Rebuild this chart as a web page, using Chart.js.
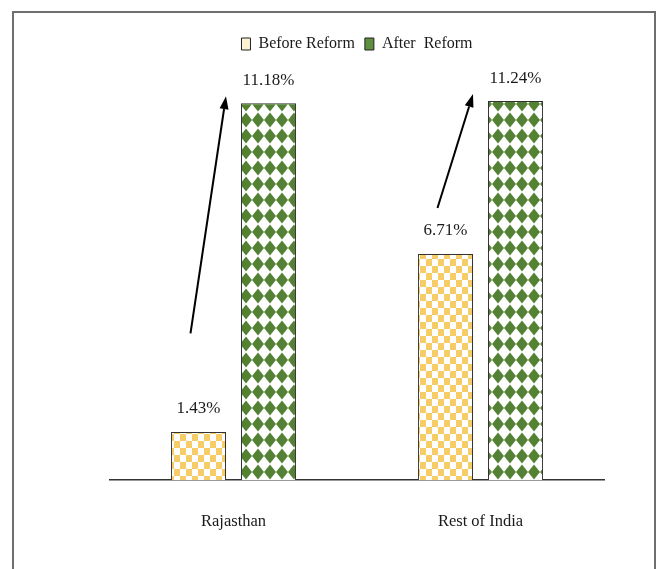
<!DOCTYPE html>
<html>
<head>
<meta charset="utf-8">
<script src="https://cdn.jsdelivr.net/npm/chart.js@4"></script>
<style>
  html, body { margin: 0; padding: 0; background: #fff; }
  #wrap { width: 662px; height: 569px; }
</style>
</head>
<body>
<div id="wrap"><canvas id="chart" width="662" height="569"></canvas></div>
<script>
const regions = ['Rajasthan', 'Rest of India'];
const beforeReform = [1.43, 6.71];
const afterReform = [11.18, 11.24];
const seriesNames = ['Before Reform', 'After  Reform'];

const FONT = '"Liberation Serif", "Times New Roman", serif';

// checkerboard fill for the "before" bars
function checkerPattern() {
    const c = document.createElement('canvas');
    c.width = 12; c.height = 14;
    const g = c.getContext('2d');
    g.fillStyle = '#ffffff';
    g.fillRect(0, 0, 12, 14);
    g.fillStyle = '#f6cc66';
    g.fillRect(0, 0, 6, 7);
    g.fillRect(6, 7, 6, 7);
    return g.createPattern(c, 'repeat');
}

// diamond fill for the "after" bars
function diamondPattern() {
    const c = document.createElement('canvas');
    c.width = 12; c.height = 16;
    const g = c.getContext('2d');
    g.fillStyle = '#ffffff';
    g.fillRect(0, 0, 12, 16);
    g.fillStyle = '#548235';
    g.beginPath();
    g.moveTo(6, 0.5);
    g.lineTo(12, 8);
    g.lineTo(6, 15.5);
    g.lineTo(0, 8);
    g.closePath();
    g.fill();
    return g.createPattern(c, 'repeat');
}

const framePlugin = {
    id: 'frame',
    beforeDraw(chart) {
        const ctx = chart.ctx;
        ctx.save();
        ctx.fillStyle = '#fff';
        ctx.fillRect(0, 0, chart.width, chart.height);
        ctx.strokeStyle = '#6e6e6e';
        ctx.lineWidth = 2;
        ctx.beginPath();
        ctx.moveTo(13, chart.height + 5);
        ctx.lineTo(13, 12);
        ctx.lineTo(655, 12);
        ctx.lineTo(655, chart.height + 5);
        ctx.stroke();
        ctx.restore();
    }
};

const labelsAndArrows = {
    id: 'labelsAndArrows',
    afterDatasetsDraw(chart) {
        const ctx = chart.ctx;
        ctx.save();
        ctx.font = '17px ' + FONT;
        ctx.fillStyle = '#1a1a1a';
        ctx.textAlign = 'center';
        ctx.textBaseline = 'middle';
        chart.data.datasets.forEach((ds, di) => {
            chart.getDatasetMeta(di).data.forEach((bar, i) => {
                ctx.fillText(ds.data[i].toFixed(2) + '%', bar.x, bar.y - 23);
            });
        });

        const m0 = chart.getDatasetMeta(0).data;
        const m1 = chart.getDatasetMeta(1).data;
        ctx.strokeStyle = '#000';
        ctx.fillStyle = '#000';
        ctx.lineWidth = 2;
        m0.forEach((b, i) => {
            const a = m1[i];
            const x0 = b.x - 8, y0 = b.y - 0.3 * (b.y - a.y);
            const x1 = a.x - a.width / 2 - 15, y1 = a.y - 7;
            const ang = Math.atan2(y1 - y0, x1 - x0);
            const hl = 13, hw = 4.5;
            const bx = x1 - hl * Math.cos(ang), by = y1 - hl * Math.sin(ang);
            ctx.beginPath();
            ctx.moveTo(x0, y0);
            ctx.lineTo(bx, by);
            ctx.stroke();
            ctx.beginPath();
            ctx.moveTo(x1, y1);
            ctx.lineTo(bx + hw * Math.sin(ang), by - hw * Math.cos(ang));
            ctx.lineTo(bx - hw * Math.sin(ang), by + hw * Math.cos(ang));
            ctx.closePath();
            ctx.fill();
        });
        ctx.restore();
    }
};

new Chart(document.querySelector('#chart').getContext('2d'), {
    type: 'bar',
    data: {
        labels: regions,
        datasets: [
            {
                label: seriesNames[0],
                data: beforeReform,
                backgroundColor: checkerPattern(),
                borderColor: '#333',
                borderWidth: 1,
                barPercentage: 0.786,
                categoryPercentage: 0.567
            },
            {
                label: seriesNames[1],
                data: afterReform,
                backgroundColor: diamondPattern(),
                borderColor: '#333',
                borderWidth: 1,
                barPercentage: 0.786,
                categoryPercentage: 0.567
            }
        ]
    },
    options: {
        responsive: false,
        animation: false,
        layout: { padding: { top: 26, left: 110, right: 58, bottom: 5 } },
        plugins: {
            tooltip: { enabled: false },
            legend: {
                position: 'top',
                labels: {
                    font: { family: FONT, size: 16 },
                    color: '#1a1a1a',
                    boxWidth: 9,
                    boxHeight: 12,
                    padding: 10,
                    generateLabels(chart) {
                        const fills = ['#fcf2d2', '#5f8f3f'];
                        return chart.data.datasets.map((ds, i) => ({
                            text: ds.label,
                            fillStyle: fills[i],
                            strokeStyle: '#222',
                            lineWidth: 1,
                            fontColor: '#1a1a1a',
                            datasetIndex: i,
                            hidden: false
                        }));
                    }
                }
            }
        },
        scales: {
            x: {
                grid: { display: false, drawTicks: false },
                border: { display: true, color: '#333', width: 1.5 },
                ticks: { font: { family: FONT, size: 16.5 }, color: '#1a1a1a', padding: 32 }
            },
            y: {
                display: false,
                min: 0,
                max: 12.4
            }
        }
    },
    plugins: [framePlugin, labelsAndArrows]
});
</script>
</body>
</html>
